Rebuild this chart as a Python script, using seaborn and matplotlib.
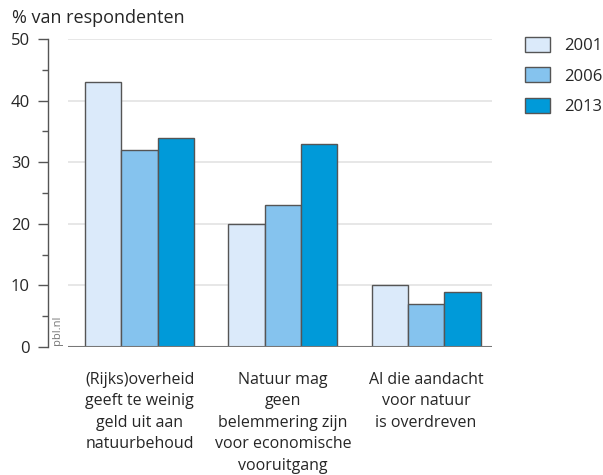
import matplotlib
matplotlib.use("Agg")
import matplotlib.pyplot as plt
import matplotlib.ticker as mtick
from matplotlib.patches import Patch
import pandas as pd
import seaborn as sns

# Data
categories = [
    "(Rijks)overheid\ngeeft te weinig\ngeld uit aan\nnatuurbehoud",
    "Natuur mag\ngeen\nbelemmering zijn\nvoor economische\nvooruitgang",
    "Al die aandacht\nvoor natuur\nis overdreven",
]
years = ["2001", "2006", "2013"]
values_2001 = [43, 20, 10]
values_2006 = [32, 23, 7]
values_2013 = [34, 33, 9]
colors = ["#dbeafa", "#85c3ee", "#009ad9"]

df = pd.DataFrame({
    "categorie": categories * 3,
    "jaar": [y for y in years for _ in categories],
    "waarde": values_2001 + values_2006 + values_2013,
})

sns.set_theme(style="white")
plt.rcParams["font.family"] = ["Open Sans", "DejaVu Sans"]

fig = plt.figure(figsize=(6.03, 4.75), dpi=100)
W, H = 603, 475
ax = fig.add_axes([68 / W, (H - 347) / H, (492 - 68) / W, (347 - 39) / H])

sns.barplot(
    data=df, x="categorie", y="waarde", hue="jaar",
    palette=colors, saturation=1, width=0.76,
    edgecolor="#555555", linewidth=1.0,
    ax=ax, legend=False, zorder=3,
)

ax.set_xlim(-0.5, 2.46)
ax.set_ylim(0, 50)
ax.set_xlabel("")
ax.set_ylabel("")

# gridlines and baseline
ax.yaxis.set_major_locator(mtick.MultipleLocator(10))
ax.yaxis.set_minor_locator(mtick.MultipleLocator(5))
ax.grid(axis="y", color="#e3e3e3", linewidth=1.2, zorder=0)
ax.axhline(0, color="#777777", linewidth=1.5, zorder=4)

for s in ["top", "right", "bottom"]:
    ax.spines[s].set_visible(False)
ax.spines["left"].set_position(("outward", 14.4))
ax.spines["left"].set_color("#555555")
ax.spines["left"].set_linewidth(1.0)

ax.tick_params(axis="y", which="major", left=True, length=7, width=1.0,
               color="#555555", labelsize=12, pad=6)
ax.tick_params(axis="y", which="minor", left=True, length=4, width=1.0,
               color="#555555")
ax.tick_params(axis="x", bottom=False, labelsize=11.5, pad=12)
for lbl in ax.get_xticklabels():
    lbl.set_linespacing(1.45)

fig.text(12 / W, 1 - 18 / H, "% van respondenten", fontsize=13,
         ha="left", va="center")
fig.text(58 / W, 1 - 330 / H, "pbl.nl", fontsize=8, color="#777777",
         rotation=90, ha="center", va="center")

# legend
handles = [Patch(facecolor=c, edgecolor="#555555", linewidth=1.0, label=y)
           for c, y in zip(colors, years)]
fig.legend(handles=handles, loc="upper left",
           bbox_to_anchor=(525 / W, 1 - 37 / H), frameon=False,
           borderpad=0, borderaxespad=0,
           fontsize=12, handlelength=1.5, handleheight=1.0,
           labelspacing=0.8, handletextpad=0.85)

fig.savefig("out.png", dpi=100)
